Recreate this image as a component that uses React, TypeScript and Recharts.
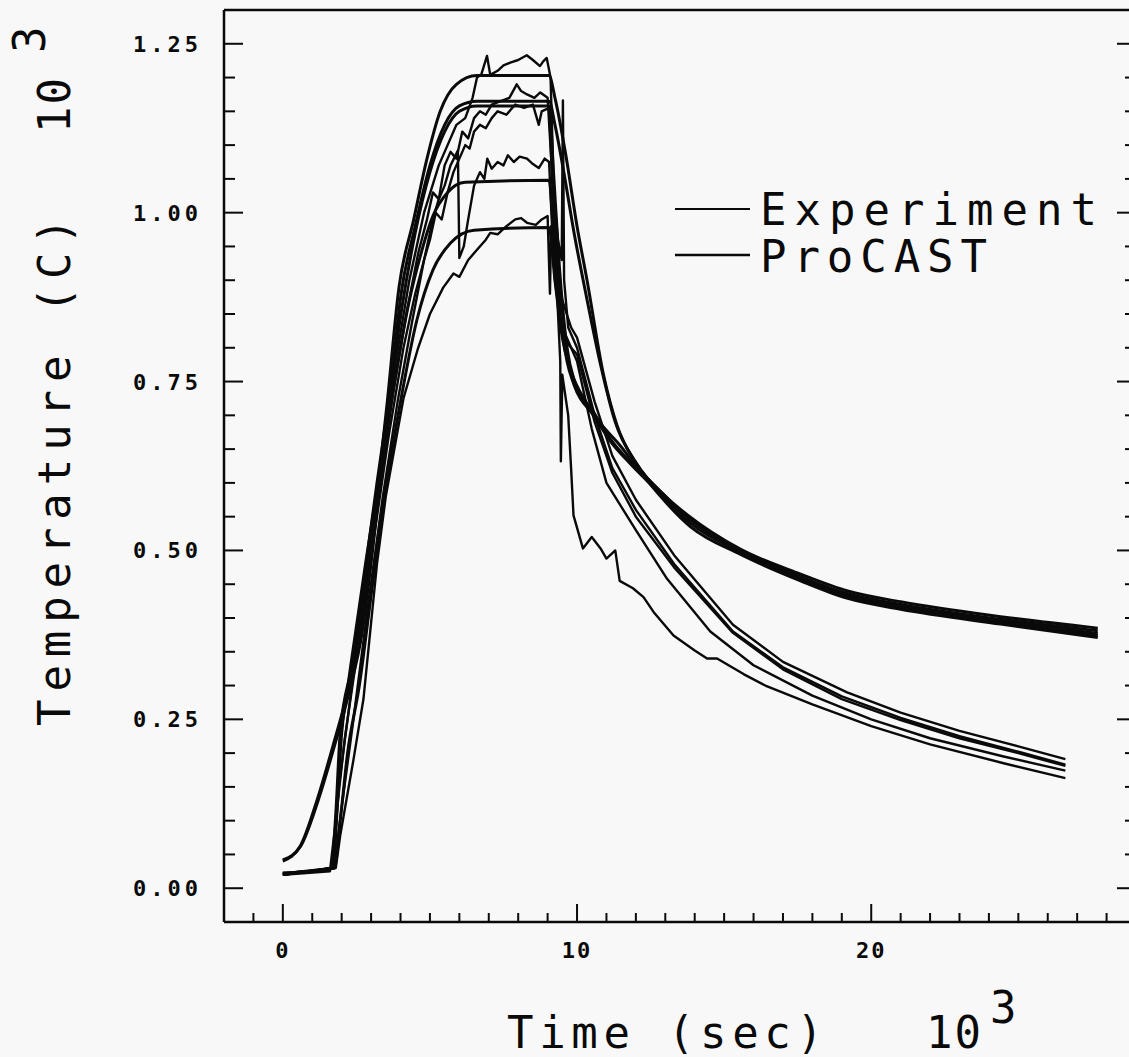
import React from "react";
import { LineChart, Line, XAxis, YAxis } from "recharts";

const FONT = "'DejaVu Sans Mono', monospace";
const INK = "#0a0a0a";

// tick labels
const xMajorTicks = [0, 10, 20];
const yTickLabels = ["0.00", "0.25", "0.50", "0.75", "1.00", "1.25"];

// ProCAST (smooth) curves: [time 10^3 s, temperature 10^3 C]
const procast1 = [
  [0, 0.04], [0.6, 0.063], [1.16, 0.13], [1.7, 0.21], [2.2, 0.29], [2.65, 0.38],
  [3.0, 0.5], [3.3, 0.62], [3.55, 0.72], [3.95, 0.89], [4.45, 0.99], [4.9, 1.08],
  [5.35, 1.15], [5.9, 1.19], [6.6, 1.203], [9.05, 1.203], [9.25, 1.17], [9.6, 1.09],
  [10.0, 0.98], [10.34, 0.9], [10.9, 0.76], [11.36, 0.685], [12.04, 0.627], [13.0, 0.58],
  [13.74, 0.553], [15.55, 0.502], [17.6, 0.465], [19.2, 0.44], [21.0, 0.424], [24.4, 0.402],
  [27.7, 0.385],
];
const procast2 = [
  [0, 0.042], [0.6, 0.062], [1.2, 0.13], [1.75, 0.21], [2.25, 0.29], [2.7, 0.38],
  [3.05, 0.5], [3.35, 0.62], [3.62, 0.72], [4.02, 0.88], [4.5, 0.98], [5.0, 1.07],
  [5.5, 1.13], [6.0, 1.158], [6.6, 1.165], [9.05, 1.165], [9.25, 1.13], [9.55, 1.06],
  [9.9, 0.97], [10.3, 0.88], [10.8, 0.775], [11.3, 0.69], [12.0, 0.63], [13.0, 0.578],
  [13.74, 0.55], [15.55, 0.499], [17.6, 0.461], [19.2, 0.436], [21.0, 0.42], [24.4, 0.398],
  [27.7, 0.381],
];
const procast3 = [
  [0, 0.022], [1.65, 0.03], [1.8, 0.11], [1.95, 0.23], [2.35, 0.33], [2.8, 0.47],
  [3.2, 0.6], [3.6, 0.72], [4.05, 0.86], [4.5, 0.97], [5.0, 1.06], [5.5, 1.12],
  [6.0, 1.15], [6.6, 1.158], [9.05, 1.158], [9.2, 1.06], [9.4, 0.92], [9.66, 0.8],
  [9.9, 0.752], [10.56, 0.705], [11.13, 0.665], [11.82, 0.63], [12.5, 0.602], [13.86, 0.545],
  [15.56, 0.5], [17.6, 0.46], [19.2, 0.434], [21.0, 0.418], [24.4, 0.396], [27.7, 0.377],
];
const procast4 = [
  [0, 0.022], [1.7, 0.03], [1.85, 0.12], [2.0, 0.23], [2.4, 0.33], [2.85, 0.47],
  [3.3, 0.6], [3.8, 0.75], [4.3, 0.87], [4.7, 0.94], [5.1, 0.995], [5.6, 1.03],
  [6.2, 1.045], [9.05, 1.048], [9.2, 0.97], [9.4, 0.86], [9.66, 0.78], [9.9, 0.745],
  [10.56, 0.7], [11.13, 0.662], [11.82, 0.628], [12.5, 0.598], [13.86, 0.54], [15.56, 0.497],
  [17.6, 0.457], [19.2, 0.431], [21.0, 0.415], [24.4, 0.393], [27.7, 0.374],
];
const procast5 = [
  [0, 0.022], [1.75, 0.03], [1.95, 0.1], [2.2, 0.2], [2.6, 0.3], [3.05, 0.45],
  [3.5, 0.59], [4.0, 0.72], [4.55, 0.84], [5.1, 0.915], [5.7, 0.955], [6.5, 0.974],
  [9.05, 0.978], [9.25, 0.9], [9.5, 0.815], [9.8, 0.765], [10.3, 0.72], [10.8, 0.688],
  [11.47, 0.655], [12.26, 0.61], [13.86, 0.535], [15.56, 0.494], [17.6, 0.455], [19.2, 0.429],
  [21.0, 0.413], [24.4, 0.391], [27.7, 0.371],
];

// Experiment (measured, jagged) curves
const experiment1 = [
  [0, 0.02], [1.6, 0.025], [1.8, 0.1], [1.95, 0.22], [2.3, 0.33], [2.8, 0.48], [3.3, 0.62],
  [3.8, 0.77], [4.3, 0.9], [4.8, 1.0], [5.3, 1.07], [5.6, 1.1], [5.9, 1.13], [6.2, 1.14],
  [6.45, 1.17], [6.6, 1.2], [6.75, 1.205], [6.94, 1.232], [7.05, 1.204], [7.3, 1.21],
  [7.5, 1.218], [7.73, 1.222], [8.0, 1.226], [8.29, 1.233], [8.5, 1.226], [8.74, 1.217],
  [8.85, 1.224], [8.97, 1.229], [9.1, 1.2], [9.2, 1.05], [9.3, 0.93], [9.5, 0.87], [9.8, 0.83],
  [10.0, 0.815], [10.6, 0.72], [11.2, 0.64], [12.0, 0.575], [13.3, 0.493], [15.3, 0.39],
  [17.0, 0.335], [19.18, 0.29], [21.0, 0.26], [23.0, 0.233], [25.0, 0.21], [26.6, 0.191],
];
const experiment2 = [
  [0, 0.02], [1.7, 0.03], [1.9, 0.15], [2.2, 0.25], [2.7, 0.42], [3.2, 0.57], [3.7, 0.72],
  [4.2, 0.85], [4.6, 0.94], [4.9, 0.99], [5.1, 1.03], [5.3, 1.02], [5.5, 1.07], [5.7, 1.09],
  [5.9, 1.08], [6.1, 1.12], [6.3, 1.11], [6.5, 1.14], [6.7, 1.15], [6.9, 1.145], [7.1, 1.16],
  [7.4, 1.165], [7.7, 1.17], [7.95, 1.19], [8.1, 1.18], [8.3, 1.175], [8.55, 1.17],
  [8.75, 1.178], [9.0, 1.17], [9.15, 1.06], [9.35, 0.96], [9.48, 0.93], [9.52, 1.166],
  [9.56, 0.9], [9.7, 0.83], [10.0, 0.8], [10.6, 0.7], [11.2, 0.622], [12.0, 0.56],
  [13.3, 0.48], [15.3, 0.38], [17.0, 0.327], [19.0, 0.284], [21.0, 0.252], [23.0, 0.225],
  [25.0, 0.202], [26.6, 0.183],
];
const experiment3 = [
  [0, 0.022], [1.7, 0.03], [1.85, 0.12], [2.1, 0.22], [2.6, 0.37], [3.1, 0.52], [3.6, 0.67],
  [4.1, 0.8], [4.5, 0.88], [4.8, 0.93], [5.0, 0.96], [5.2, 1.0], [5.4, 0.99], [5.6, 1.03],
  [5.8, 1.06], [6.0, 1.08], [6.2, 1.1], [6.35, 1.095], [6.5, 1.12], [6.7, 1.13], [6.9, 1.125],
  [7.1, 1.14], [7.3, 1.15], [7.6, 1.145], [7.9, 1.16], [8.2, 1.155], [8.5, 1.16], [8.7, 1.13],
  [8.8, 1.15], [9.05, 1.155], [9.2, 1.0], [9.4, 0.88], [9.6, 0.82], [10.0, 0.78], [10.5, 0.68],
  [11.0, 0.6], [12.0, 0.53], [13.06, 0.458], [14.53, 0.38], [16.0, 0.33], [18.0, 0.285],
  [20.0, 0.25], [22.0, 0.222], [24.5, 0.195], [26.6, 0.174],
];
const experiment4 = [
  [0, 0.02], [1.75, 0.03], [2.0, 0.12], [2.4, 0.25], [2.9, 0.42], [3.4, 0.58], [3.9, 0.72],
  [4.4, 0.84], [4.8, 0.93], [5.1, 0.99], [5.3, 1.02], [5.5, 1.04], [5.7, 1.07], [5.95, 1.092],
  [6.0, 0.933], [6.15, 0.95], [6.3, 0.99], [6.5, 1.04], [6.7, 1.06], [6.85, 1.05], [6.95, 1.08],
  [7.1, 1.065], [7.3, 1.075], [7.5, 1.07], [7.65, 1.085], [7.85, 1.075], [8.05, 1.083],
  [8.3, 1.08], [8.5, 1.072], [8.7, 1.066], [8.9, 1.08], [9.05, 1.075], [9.15, 0.98], [9.3, 0.9],
  [9.43, 0.78], [9.45, 0.632], [9.5, 0.76], [9.7, 0.7], [9.8, 0.62], [9.88, 0.552],
  [10.2, 0.503], [10.5, 0.52], [10.8, 0.503], [11.0, 0.488], [11.3, 0.5], [11.45, 0.455],
  [11.9, 0.444], [12.26, 0.431], [12.6, 0.409], [13.28, 0.374], [14.0, 0.352], [14.42, 0.34],
  [14.76, 0.34], [15.66, 0.317], [16.4, 0.3], [18.0, 0.272], [20.0, 0.24], [22.0, 0.213],
  [24.5, 0.185], [26.6, 0.163],
];
const experiment5 = [
  [0, 0.02], [1.8, 0.03], [1.95, 0.078], [2.4, 0.19], [2.74, 0.28], [3.2, 0.48], [3.5, 0.58],
  [4.1, 0.725], [4.6, 0.8], [5.0, 0.85], [5.45, 0.889], [5.8, 0.91], [6.0, 0.905], [6.3, 0.93],
  [6.6, 0.945], [6.9, 0.96], [7.05, 0.97], [7.3, 0.968], [7.6, 0.98], [7.9, 0.99], [8.1, 0.992],
  [8.3, 0.985], [8.6, 0.982], [8.8, 0.99], [9.0, 0.995], [9.08, 0.88], [9.12, 0.98], [9.25, 0.9],
  [9.4, 0.85], [9.6, 0.81], [10.0, 0.79], [10.6, 0.69], [11.2, 0.615], [12.0, 0.55],
  [13.3, 0.475], [15.3, 0.378], [17.0, 0.324], [19.0, 0.28], [21.0, 0.249], [23.0, 0.222],
  [25.0, 0.2], [26.6, 0.181],
];

const toRows = (pts: number[][]) => pts.map(([t, v]) => ({ t, v }));

const smoothSeries = [procast1, procast2, procast3, procast4, procast5];
const measuredSeries = [experiment1, experiment2, experiment3, experiment4, experiment5];

const xTicks: number[] = [];
for (let t = -2; t <= 29; t++) xTicks.push(t);
const yTicks: number[] = [];
for (let i = -1; i <= 26; i++) yTicks.push(Math.round(i * 5) / 100);

const isYMajor = (v: number) => Math.abs(v * 4 - Math.round(v * 4)) < 1e-6 && v >= 0;
const yLabel = (v: number) => yTickLabels[Math.round(v * 4)];

function BottomTick({ x, y, payload }: any) {
  const major = xMajorTicks.includes(payload.value);
  return (
    <g>
      <line x1={x} y1={y} x2={x} y2={y - (major ? 18 : 9)} stroke={INK} strokeWidth={2} />
      {major && (
        <text x={x} y={y + 36} textAnchor="middle" fontFamily={FONT} fontWeight="bold" fontSize={22} letterSpacing={2} fill={INK}>
          {payload.value}
        </text>
      )}
    </g>
  );
}

function TopTick({ x, y, payload }: any) {
  const major = xMajorTicks.includes(payload.value);
  return <line x1={x} y1={y} x2={x} y2={y + (major ? 20 : 10)} stroke={INK} strokeWidth={2} />;
}

function LeftTick({ x, y, payload }: any) {
  const major = isYMajor(payload.value);
  return (
    <g>
      <line x1={x} y1={y} x2={x + (major ? 19 : 11)} y2={y} stroke={INK} strokeWidth={2} />
      {major && (
        <text x={x - 22} y={y + 8} textAnchor="end" fontFamily={FONT} fontWeight="bold" fontSize={22} letterSpacing={4} fill={INK}>
          {yLabel(payload.value)}
        </text>
      )}
    </g>
  );
}

function RightTick({ x, y, payload }: any) {
  const major = isYMajor(payload.value);
  return <line x1={x} y1={y} x2={x - (major ? 19 : 11)} y2={y} stroke={INK} strokeWidth={2} />;
}

const titleStyle = { fontFamily: FONT, fontSize: 44, fill: INK };
const frame = { stroke: INK, strokeWidth: 2.5 };

export default function App() {
  return (
    <div style={{ position: "absolute", left: 0, top: 0, width: 1129, height: 1057, overflow: "hidden", background: "#f8f8f8" }}>
      <LineChart width={1140} height={1057} margin={{ top: 9, right: 3, bottom: 134, left: 223 }}>
        <XAxis
          dataKey="t"
          type="number"
          domain={[-2, 29]}
          allowDataOverflow
          ticks={xTicks}
          interval={0}
          height={1}
          tickSize={0}
          tickMargin={0}
          tickLine={false}
          axisLine={frame}
          tick={BottomTick}
        />
        <XAxis
          xAxisId="top"
          orientation="top"
          type="number"
          domain={[-2, 29]}
          allowDataOverflow
          ticks={xTicks}
          interval={0}
          height={1}
          tickSize={0}
          tickMargin={0}
          tickLine={false}
          axisLine={frame}
          tick={TopTick}
        />
        <YAxis
          type="number"
          domain={[-0.05, 1.3]}
          allowDataOverflow
          ticks={yTicks}
          interval={0}
          width={1}
          tickSize={0}
          tickMargin={0}
          tickLine={false}
          axisLine={frame}
          tick={LeftTick}
        />
        <YAxis
          yAxisId="right"
          orientation="right"
          type="number"
          domain={[-0.05, 1.3]}
          allowDataOverflow
          ticks={yTicks}
          interval={0}
          width={1}
          tickSize={0}
          tickMargin={0}
          tickLine={false}
          axisLine={frame}
          tick={RightTick}
        />

        {smoothSeries.map((s, i) => (
          <Line
            key={"p" + i}
            data={toRows(s)}
            dataKey="v"
            type="monotone"
            stroke={INK}
            strokeWidth={3}
            dot={false}
            isAnimationActive={false}
          />
        ))}
        {measuredSeries.map((s, i) => (
          <Line
            key={"e" + i}
            data={toRows(s)}
            dataKey="v"
            type="linear"
            stroke={INK}
            strokeWidth={2.4}
            strokeLinejoin="round"
            dot={false}
            isAnimationActive={false}
          />
        ))}

        {/* legend */}
        <g>
          <line x1={675} y1={209} x2={750} y2={209} stroke={INK} strokeWidth={2} />
          <text x={760} y={225} textLength={337} lengthAdjust="spacing" {...titleStyle}>Experiment</text>
          <line x1={675} y1={255} x2={750} y2={255} stroke={INK} strokeWidth={2.5} />
          <text x={760} y={272} textLength={227} lengthAdjust="spacing" {...titleStyle}>ProCAST</text>
        </g>

        {/* axis titles */}
        <g>
          <text x={70} y={726} transform="rotate(-90 70 726)" textLength={508} lengthAdjust="spacing" {...titleStyle}>
            Temperature (C)
          </text>
          <text x={70} y={133} transform="rotate(-90 70 133)" textLength={55} lengthAdjust="spacing" {...titleStyle}>10</text>
          <text x={45} y={53} transform="rotate(-90 45 53)" {...titleStyle}>3</text>
          <text x={507} y={1048} textLength={316} lengthAdjust="spacing" {...titleStyle}>Time (sec)</text>
          <text x={926} y={1048} textLength={55} lengthAdjust="spacing" {...titleStyle}>10</text>
          <text x={990} y={1023} {...titleStyle}>3</text>
        </g>
      </LineChart>
    </div>
  );
}
